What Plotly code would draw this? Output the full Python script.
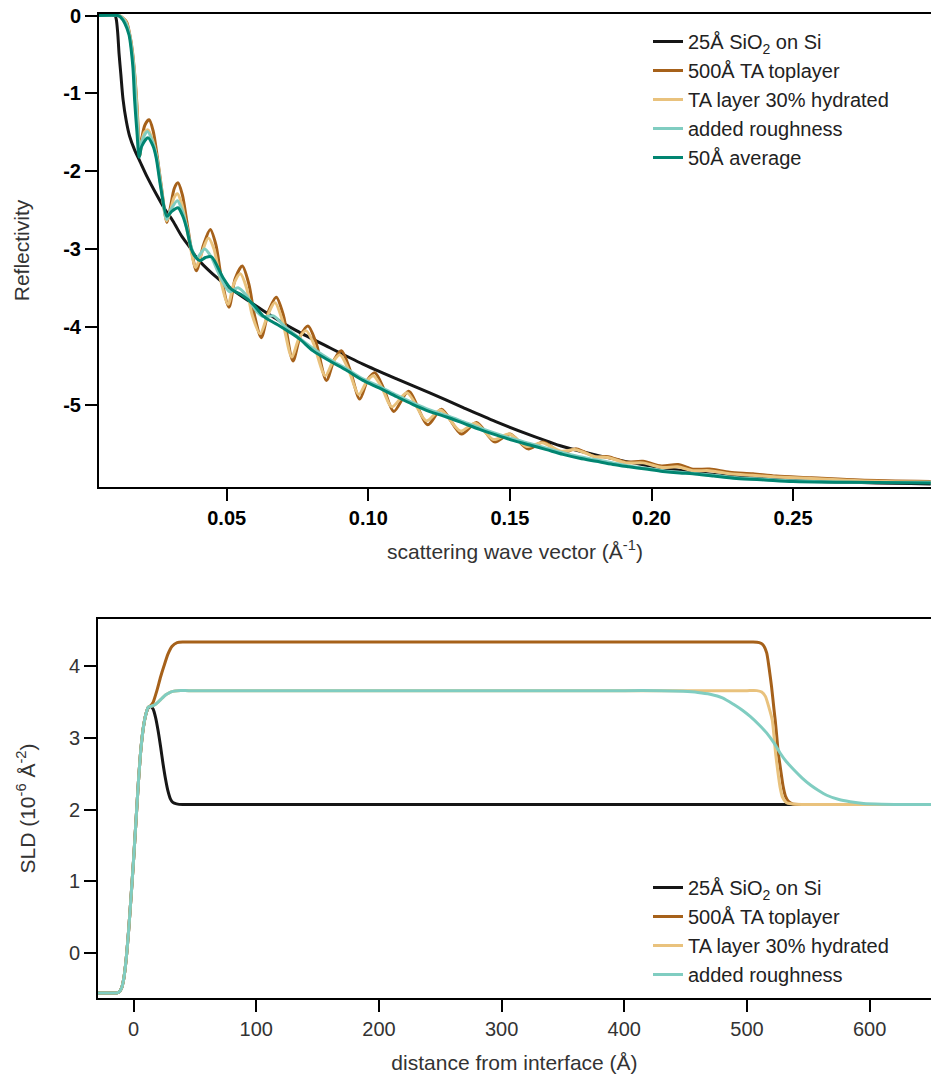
import plotly.graph_objects as go

# ---------------- Reflectivity (top panel) ----------------
q_sio2 = [0.0048, 0.0105, 0.0110, 0.0115, 0.0120, 0.0126, 0.0134, 0.0145, 0.0157, 0.0175, 0.0193,
          0.0220, 0.0252, 0.0280, 0.0310, 0.0340, 0.0370, 0.0393, 0.0450, 0.0511, 0.0628, 0.0746,
          0.0864, 0.0981, 0.1100, 0.1217, 0.1335, 0.1450, 0.1570, 0.1687, 0.1817, 0.1980, 0.2150,
          0.2350, 0.2600, 0.2986]
r_sio2 = [0.0, 0.0, -0.05, -0.22, -0.50, -0.75, -1.08, -1.35, -1.55, -1.73, -1.87,
          -2.08, -2.30, -2.48, -2.64, -2.83, -2.98, -3.11, -3.32, -3.50, -3.79, -4.05,
          -4.27, -4.48, -4.67, -4.85, -5.04, -5.22, -5.39, -5.54, -5.66, -5.78, -5.87,
          -5.94, -5.99, -6.02]

q_ta = [0.0048, 0.0120, 0.0130, 0.0146, 0.0158, 0.0166, 0.0175, 0.0183, 0.0188, 0.0193, 0.0200,
        0.0212, 0.0226, 0.0240, 0.0255, 0.0270, 0.0289, 0.0302, 0.0315, 0.0328, 0.0343, 0.0358,
        0.0375, 0.0393, 0.0418, 0.0442, 0.0462, 0.0480, 0.0508, 0.0530, 0.0555, 0.0578, 0.0598,
        0.0622, 0.0648, 0.0675, 0.0700, 0.0734, 0.0760, 0.0787, 0.0815, 0.0852, 0.0880, 0.0905,
        0.0935, 0.0970, 0.0998, 0.1023, 0.1055, 0.1090, 0.1142, 0.1210, 0.1258, 0.1329, 0.1382,
        0.1446, 0.1500, 0.1564, 0.1617, 0.1682, 0.1735, 0.1800, 0.1847, 0.1910, 0.1970, 0.2035,
        0.2094, 0.2146, 0.2205, 0.2276, 0.2358, 0.2440, 0.2565, 0.2735, 0.2986]
r_ta = [0.0, 0.0, -0.02, -0.08, -0.25, -0.43, -0.75, -1.15, -1.50, -1.80, -1.58,
        -1.40, -1.34, -1.48, -1.82, -2.22, -2.66, -2.45, -2.22, -2.15, -2.30, -2.62,
        -3.00, -3.28, -2.95, -2.75, -2.95, -3.35, -3.75, -3.38, -3.22, -3.45, -3.85,
        -4.14, -3.80, -3.62, -3.85, -4.44, -4.12, -3.99, -4.20, -4.69, -4.42, -4.31,
        -4.55, -4.93, -4.68, -4.59, -4.80, -5.09, -4.83, -5.26, -5.06, -5.38, -5.23,
        -5.48, -5.38, -5.57, -5.48, -5.62, -5.57, -5.67, -5.67, -5.74, -5.73, -5.79,
        -5.77, -5.83, -5.83, -5.87, -5.89, -5.92, -5.94, -5.97, -5.99]

q_hyd = [0.0048, 0.0119, 0.0129, 0.0144, 0.0157, 0.0165, 0.0174, 0.0182, 0.0187, 0.0193, 0.0200,
         0.0210, 0.0222, 0.0238, 0.0254, 0.0269, 0.0288, 0.0302, 0.0314, 0.0326, 0.0341, 0.0357,
         0.0374, 0.0390, 0.0412, 0.0435, 0.0455, 0.0475, 0.0505, 0.0525, 0.0548, 0.0570, 0.0590,
         0.0618, 0.0645, 0.0670, 0.0695, 0.0730, 0.0755, 0.0780, 0.0805, 0.0848, 0.0875, 0.0900,
         0.0930, 0.0966, 0.0995, 0.1018, 0.1050, 0.1083, 0.1137, 0.1205, 0.1255, 0.1325, 0.1378,
         0.1442, 0.1497, 0.1560, 0.1614, 0.1680, 0.1732, 0.1800, 0.1845, 0.1910, 0.1970, 0.2040,
         0.2092, 0.2146, 0.2205, 0.2276, 0.2358, 0.2440, 0.2565, 0.2735, 0.2986]
r_hyd = [0.0, 0.0, -0.02, -0.08, -0.25, -0.44, -0.74, -1.14, -1.50, -1.80, -1.62,
         -1.50, -1.47, -1.60, -1.85, -2.22, -2.64, -2.50, -2.34, -2.29, -2.42, -2.70,
         -3.02, -3.24, -3.05, -2.86, -3.00, -3.35, -3.71, -3.45, -3.32, -3.50, -3.85,
         -4.09, -3.85, -3.69, -3.90, -4.39, -4.15, -4.05, -4.20, -4.63, -4.45, -4.36,
         -4.55, -4.87, -4.70, -4.63, -4.80, -5.03, -4.85, -5.21, -5.07, -5.34, -5.24,
         -5.45, -5.38, -5.54, -5.49, -5.60, -5.58, -5.67, -5.68, -5.75, -5.75, -5.81,
         -5.80, -5.85, -5.85, -5.89, -5.91, -5.93, -5.95, -5.98, -6.00]

q_rough = [0.0048, 0.0118, 0.0128, 0.0143, 0.0157, 0.0165, 0.0173, 0.0180, 0.0186, 0.0192, 0.0200,
           0.0220, 0.0238, 0.0253, 0.0268, 0.0288, 0.0302, 0.0326, 0.0342, 0.0358, 0.0375, 0.0393,
           0.0422, 0.0445, 0.0470, 0.0510, 0.0540, 0.0570, 0.0605, 0.0630, 0.0665, 0.0700, 0.0740,
           0.0805, 0.0864, 0.0923, 0.0981, 0.1040, 0.1100, 0.1158, 0.1217, 0.1276, 0.1335, 0.1393,
           0.1450, 0.1510, 0.1570, 0.1629, 0.1687, 0.1746, 0.1805, 0.1864, 0.1920, 0.1980, 0.2040,
           0.2100, 0.2220, 0.2300, 0.2400, 0.2500, 0.2700, 0.2986]
r_rough = [0.0, 0.0, -0.02, -0.09, -0.25, -0.45, -0.72, -1.12, -1.50, -1.80, -1.62,
           -1.49, -1.62, -1.83, -2.20, -2.62, -2.50, -2.38, -2.50, -2.70, -2.98, -3.12,
           -3.00, -3.10, -3.30, -3.55, -3.50, -3.60, -3.80, -3.87, -3.86, -3.98, -4.10,
           -4.28, -4.42, -4.54, -4.67, -4.77, -4.88, -4.98, -5.07, -5.14, -5.22, -5.30,
           -5.37, -5.44, -5.50, -5.56, -5.62, -5.67, -5.71, -5.75, -5.79, -5.82, -5.85,
           -5.87, -5.91, -5.94, -5.96, -5.98, -6.00, -6.00]

q_avg = [0.0048, 0.0115, 0.0125, 0.0140, 0.0155, 0.0163, 0.0169, 0.0175, 0.0183, 0.0191, 0.0200,
         0.0222, 0.0240, 0.0251, 0.0267, 0.0289, 0.0305, 0.0328, 0.0345, 0.0358, 0.0375, 0.0387,
         0.0405, 0.0425, 0.0446, 0.0487, 0.0517, 0.0552, 0.0593, 0.0628, 0.0658, 0.0687, 0.0722,
         0.0758, 0.0805, 0.0864, 0.0923, 0.0981, 0.1040, 0.1100, 0.1158, 0.1217, 0.1276, 0.1335,
         0.1393, 0.1450, 0.1510, 0.1570, 0.1629, 0.1687, 0.1746, 0.1805, 0.1864, 0.1920, 0.1980,
         0.2040, 0.2100, 0.2146, 0.2220, 0.2300, 0.2400, 0.2500, 0.2700, 0.2986]
r_avg = [0.0, 0.0, -0.02, -0.10, -0.25, -0.45, -0.68, -1.10, -1.50, -1.82, -1.68,
         -1.57, -1.68, -1.83, -2.21, -2.58, -2.52, -2.47, -2.58, -2.73, -3.00, -3.09,
         -3.15, -3.11, -3.10, -3.37, -3.52, -3.59, -3.71, -3.86, -3.93, -3.99, -4.07,
         -4.16, -4.31, -4.44, -4.56, -4.69, -4.79, -4.90, -5.00, -5.09, -5.16, -5.24,
         -5.32, -5.39, -5.46, -5.52, -5.58, -5.64, -5.69, -5.73, -5.77, -5.80, -5.83,
         -5.86, -5.88, -5.89, -5.92, -5.95, -5.97, -5.99, -6.00, -6.01]

# ---------------- SLD profiles (bottom panel) ----------------
z_sio2 = [-29, -20, -14, -12, -10, -8, -6, -4, -2, 0, 2, 4, 6, 8, 10, 12, 14, 16, 18, 20, 22, 24,
          26, 28, 30, 32, 35, 40, 50, 100, 200, 300, 400, 500, 600, 650]
sld_sio2 = [-0.56, -0.56, -0.56, -0.55, -0.50, -0.36, -0.08, 0.32, 0.80, 1.30, 1.85, 2.40, 2.85,
            3.15, 3.33, 3.42, 3.44, 3.40, 3.28, 3.10, 2.88, 2.64, 2.43, 2.26, 2.15, 2.10, 2.08,
            2.07, 2.07, 2.07, 2.07, 2.07, 2.07, 2.07, 2.07, 2.07]

z_ta = [-29, -20, -14, -12, -10, -8, -6, -4, -2, 0, 2, 4, 6, 8, 10, 12, 14, 16, 19, 22, 24.7, 28,
        31.4, 35.5, 40, 50, 100, 200, 300, 400, 480, 500, 505, 510, 513, 516, 518, 520, 522, 523,
        524.5, 525.5, 527.5, 529.5, 531.5, 534, 537, 545, 560, 600, 650]
sld_ta = [-0.56, -0.56, -0.56, -0.55, -0.50, -0.36, -0.08, 0.32, 0.80, 1.30, 1.85, 2.40, 2.85,
          3.15, 3.33, 3.43, 3.45, 3.50, 3.66, 3.85, 4.00, 4.17, 4.28, 4.33, 4.34, 4.34, 4.34,
          4.34, 4.34, 4.34, 4.34, 4.34, 4.34, 4.33, 4.30, 4.19, 3.98, 3.72, 3.40, 3.25, 2.98,
          2.79, 2.55, 2.32, 2.18, 2.11, 2.08, 2.07, 2.07, 2.07, 2.07]

z_hyd = [-29, -20, -14, -12, -10, -8, -6, -4, -2, 0, 2, 4, 6, 8, 10, 12, 14, 17, 20, 23, 26, 29,
         32, 36, 45, 100, 200, 300, 400, 480, 500, 508, 512, 515, 518, 520.6, 522, 523.3, 525,
         526.9, 529, 532, 536, 545, 560, 600, 650]
sld_hyd = [-0.56, -0.56, -0.56, -0.55, -0.50, -0.36, -0.08, 0.32, 0.80, 1.30, 1.85, 2.40, 2.85,
           3.15, 3.33, 3.43, 3.44, 3.46, 3.50, 3.55, 3.60, 3.63, 3.65, 3.66, 3.66, 3.66, 3.66,
           3.66, 3.66, 3.66, 3.66, 3.66, 3.64, 3.58, 3.42, 3.25, 3.03, 2.79, 2.55, 2.32, 2.17,
           2.10, 2.08, 2.07, 2.07, 2.07, 2.07]

z_rough = [-29, -20, -14, -12, -10, -8, -6, -4, -2, 0, 2, 4, 6, 8, 10, 12, 14, 17, 20, 23, 26, 29,
           32, 36, 45, 100, 200, 300, 350, 400, 430, 448, 460, 470, 480, 489, 496, 502.6, 510, 516,
           522, 527, 532, 538, 545, 552, 558, 565, 575, 584, 595, 610, 630, 650]
sld_rough = [-0.56, -0.56, -0.56, -0.55, -0.50, -0.36, -0.08, 0.32, 0.80, 1.30, 1.85, 2.40, 2.85,
             3.15, 3.33, 3.43, 3.44, 3.46, 3.50, 3.55, 3.60, 3.63, 3.65, 3.66, 3.66, 3.66, 3.66,
             3.66, 3.66, 3.66, 3.66, 3.65, 3.635, 3.61, 3.56, 3.47, 3.39, 3.30, 3.18, 3.07, 2.93,
             2.79, 2.67, 2.56, 2.44, 2.34, 2.27, 2.20, 2.14, 2.11, 2.085, 2.075, 2.07, 2.07]

names = ["25Å SiO<sub>2</sub> on Si", "500Å TA toplayer", "TA layer 30% hydrated",
         "added roughness", "50Å average"]
colors = ["#161616", "#a6611a", "#e9c27d", "#80cdc1", "#018571"]

refl_tick_vals = [0, -1, -2, -3, -4, -5]
refl_tick_text = ["0", "-1", "-2", "-3", "-4", "-5"]
q_tick_vals = [0.05, 0.10, 0.15, 0.20, 0.25]
q_tick_text = ["0.05", "0.10", "0.15", "0.20", "0.25"]
z_tick_vals = [0, 100, 200, 300, 400, 500, 600]
sld_tick_vals = [0, 1, 2, 3, 4]

FONT = "Liberation Sans, Arial, sans-serif"

fig = go.Figure()
top_series = [(q_sio2, r_sio2), (q_ta, r_ta), (q_hyd, r_hyd), (q_rough, r_rough), (q_avg, r_avg)]
for i, (xs, ys) in enumerate(top_series):
    fig.add_trace(go.Scatter(x=xs, y=ys, mode="lines", name=names[i],
                             line=dict(color=colors[i], width=3, shape="spline", smoothing=0.8),
                             xaxis="x", yaxis="y", legend="legend"))

bot_series = [(z_sio2, sld_sio2), (z_ta, sld_ta), (z_hyd, sld_hyd), (z_rough, sld_rough)]
for i, (xs, ys) in enumerate(bot_series):
    fig.add_trace(go.Scatter(x=xs, y=ys, mode="lines", name=names[i],
                             line=dict(color=colors[i], width=3, shape="spline", smoothing=0.6),
                             xaxis="x2", yaxis="y2", legend="legend2"))

W, H = 931, 1079
axis_common = dict(showline=True, linecolor="black", linewidth=2, ticks="outside",
                   ticklen=12, tickwidth=1.5, tickcolor="black", showgrid=False,
                   zeroline=False, automargin=False)

legend_common = dict(xanchor="left", yanchor="top", bgcolor="rgba(0,0,0,0)",
                     font=dict(family=FONT, size=20, color="#222"), tracegroupgap=0)

fig.update_layout(
    template="plotly_white",
    width=W, height=H, margin=dict(l=0, r=0, t=0, b=0),
    paper_bgcolor="white", plot_bgcolor="white",
    font=dict(family=FONT, size=20, color="#333"),
    xaxis=dict(domain=[99 / W, 1], range=[0.0049, 0.2987], anchor="y", mirror=True,
               tickvals=q_tick_vals, ticktext=q_tick_text,
               tickfont=dict(family=FONT, size=20, color="black", weight="bold"),
               title=dict(text="scattering wave vector (Å<sup>-1</sup>)", standoff=16,
                          font=dict(size=21, color="#333")),
               **axis_common),
    yaxis=dict(domain=[(H - 487) / H, (H - 14) / H], range=[-6.06, 0.02], anchor="x",
               tickvals=refl_tick_vals, ticktext=refl_tick_text,
               tickfont=dict(family=FONT, size=20, color="black", weight="bold"),
               title=dict(text="Reflectivity", standoff=28, font=dict(size=21, color="#333")),
               **axis_common),
    xaxis2=dict(domain=[98 / W, 1], range=[-29, 650], anchor="y2", mirror=True,
                tickvals=z_tick_vals,
                tickfont=dict(family=FONT, size=20, color="#333"),
                title=dict(text="distance from interface (Å)", standoff=16,
                           font=dict(size=21, color="#333")),
                **axis_common),
    yaxis2=dict(domain=[(H - 998) / H, (H - 619) / H], range=[-0.63, 4.66], anchor="x2",
                tickvals=sld_tick_vals,
                tickfont=dict(family=FONT, size=20, color="#333"),
                title=dict(text="SLD (10<sup>-6</sup> Å<sup>-2</sup>)", standoff=28,
                           font=dict(size=21, color="#333")),
                **axis_common),
    legend=dict(x=648 / W, y=(H - 22) / H, **legend_common),
    legend2=dict(x=648 / W, y=(H - 868) / H, **legend_common),
)

fig.write_html("out.html")
